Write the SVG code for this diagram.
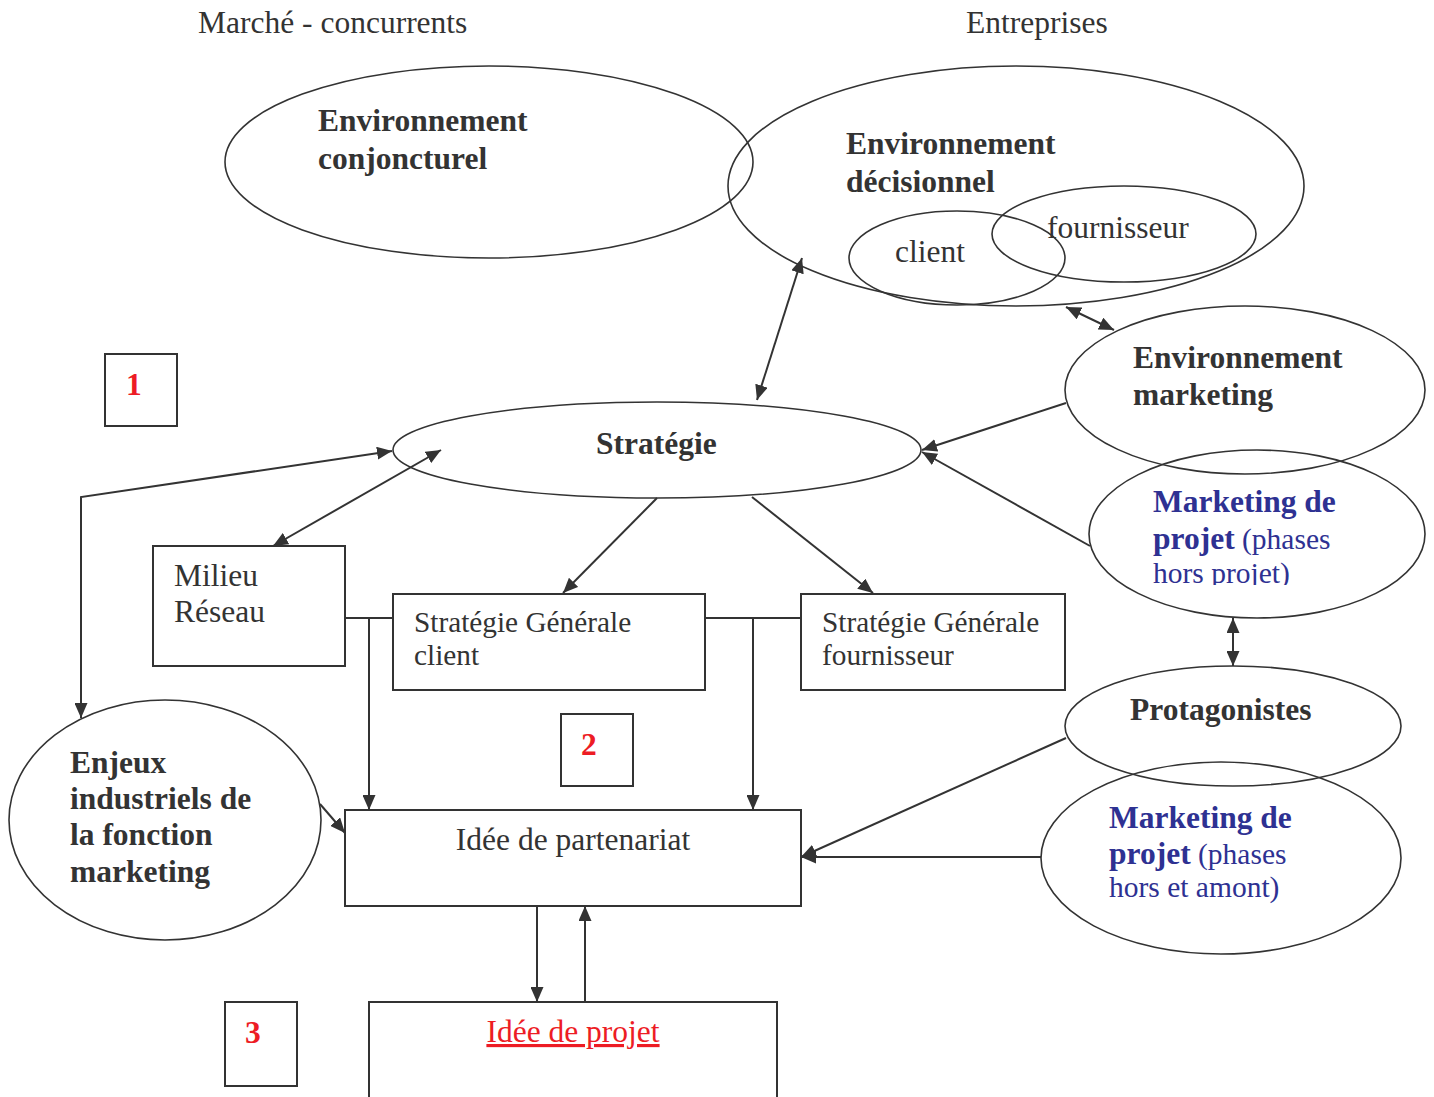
<svg xmlns="http://www.w3.org/2000/svg" width="1434" height="1097" viewBox="0 0 1434 1097">
<defs>
<style>
text{font-family:"Liberation Serif","Times New Roman",serif;font-size:31.5px;fill:#333}
.b{font-weight:bold}
.s{font-size:29.3px}
.blue{fill:#2e3192}
.bs{font-size:29.5px}
.red{fill:#ed1c24}
.ell{fill:none;stroke:#333;stroke-width:1.6}
.box{fill:none;stroke:#333;stroke-width:2}
.c{fill:none;stroke:#333;stroke-width:2}
</style>
<marker id="ar" markerUnits="userSpaceOnUse" markerWidth="15" markerHeight="13" refX="15" refY="6.5" orient="auto-start-reverse" viewBox="0 0 15 13">
<path d="M0,0 L15,6.5 L0,13 z" fill="#333"/>
</marker>
<clipPath id="clip1"><rect x="1100" y="480" width="300" height="105"/></clipPath>
</defs>
<rect width="1434" height="1097" fill="#fff"/>

<text x="198" y="33">Marché - concurrents</text>
<text x="966" y="33">Entreprises</text>

<g id="env-conjoncturel">
<ellipse class="ell" cx="489" cy="162" rx="264" ry="96"/>
<text class="b" x="318" y="131">Environnement</text>
<text class="b" x="318" y="169">conjoncturel</text>
</g>

<g id="env-decisionnel">
<ellipse class="ell" cx="1016" cy="186" rx="288" ry="120"/>
<text class="b" x="846" y="154">Environnement</text>
<text class="b" x="846" y="192">décisionnel</text>
</g>

<g id="client">
<ellipse class="ell" cx="957" cy="258" rx="108" ry="47"/>
<text x="895" y="262">client</text>
</g>

<g id="fournisseur">
<ellipse class="ell" cx="1124" cy="234" rx="132" ry="48"/>
<text x="1047" y="238">fournisseur</text>
</g>

<g id="env-marketing">
<ellipse class="ell" cx="1245" cy="390" rx="180" ry="84"/>
<text class="b" x="1133" y="368">Environnement</text>
<text class="b" x="1133" y="405">marketing</text>
</g>

<g id="mkt-projet-hors">
<ellipse class="ell" cx="1257" cy="534" rx="168" ry="84"/>
<g clip-path="url(#clip1)">
<text class="b blue" x="1153" y="512">Marketing de</text>
<text class="blue bs" x="1153" y="549"><tspan class="b" style="font-size:31.5px">projet</tspan> (phases</text>
<text class="blue bs" x="1153" y="583">hors projet)</text>
</g>
</g>

<g id="protagonistes">
<ellipse class="ell" cx="1233" cy="726" rx="168" ry="60"/>
<text class="b" x="1130" y="720">Protagonistes</text>
</g>

<g id="mkt-projet-amont">
<ellipse class="ell" cx="1221" cy="858" rx="180" ry="96"/>
<text class="b blue" x="1109" y="828">Marketing de</text>
<text class="blue bs" x="1109" y="864"><tspan class="b" style="font-size:31.5px">projet</tspan> (phases</text>
<text class="blue bs" x="1109" y="897">hors et amont)</text>
</g>

<g id="strategie">
<ellipse class="ell" cx="657" cy="450" rx="264" ry="48"/>
<text class="b" x="596" y="454">Stratégie</text>
</g>

<g id="enjeux">
<ellipse class="ell" cx="165" cy="820" rx="156" ry="120"/>
<text class="b" x="70" y="773">Enjeux</text>
<text class="b" x="70" y="809">industriels de</text>
<text class="b" x="70" y="845">la fonction</text>
<text class="b" x="70" y="882">marketing</text>
</g>

<g id="milieu">
<rect class="box" x="153" y="546" width="192" height="120"/>
<text x="174" y="586">Milieu</text>
<text x="174" y="622">Réseau</text>
</g>

<g id="sg-client">
<rect class="box" x="393" y="594" width="312" height="96"/>
<text class="s" x="414" y="632">Stratégie Générale</text>
<text class="s" x="414" y="665">client</text>
</g>

<g id="sg-fournisseur">
<rect class="box" x="801" y="594" width="264" height="96"/>
<text class="s" x="822" y="632">Stratégie Générale</text>
<text class="s" x="822" y="665">fournisseur</text>
</g>

<g id="idee-partenariat">
<rect class="box" x="345" y="810" width="456" height="96"/>
<text x="573" y="850" text-anchor="middle">Idée de partenariat</text>
</g>

<g id="idee-projet">
<rect class="box" x="369" y="1002" width="408" height="110"/>
<text class="red" x="573" y="1042" text-anchor="middle" text-decoration="underline">Idée de projet</text>
</g>

<g id="label-1">
<rect class="box" x="105" y="354" width="72" height="72"/>
<text class="b red" x="126" y="395">1</text>
</g>
<g id="label-2">
<rect class="box" x="561" y="714" width="72" height="72"/>
<text class="b red" x="581" y="755">2</text>
</g>
<g id="label-3">
<rect class="box" x="225" y="1002" width="72" height="84"/>
<text class="b red" x="245" y="1043">3</text>
</g>

<g id="connectors">
<line class="c" x1="757" y1="400" x2="802" y2="258" marker-start="url(#ar)" marker-end="url(#ar)"/>
<line class="c" x1="1066" y1="307" x2="1114" y2="330" marker-start="url(#ar)" marker-end="url(#ar)"/>
<line class="c" x1="1066" y1="403" x2="922" y2="450" marker-end="url(#ar)"/>
<line class="c" x1="1090" y1="546" x2="922" y2="452" marker-end="url(#ar)"/>
<line class="c" x1="1233" y1="618" x2="1233" y2="666" marker-start="url(#ar)" marker-end="url(#ar)"/>
<line class="c" x1="441" y1="450" x2="273" y2="546" marker-start="url(#ar)" marker-end="url(#ar)"/>
<polyline class="c" points="392,451 81,497 81,718" marker-start="url(#ar)" marker-end="url(#ar)"/>
<line class="c" x1="657" y1="498" x2="563" y2="593" marker-end="url(#ar)"/>
<line class="c" x1="752" y1="497" x2="873" y2="593" marker-end="url(#ar)"/>
<line class="c" x1="345" y1="618" x2="393" y2="618"/>
<line class="c" x1="369" y1="618" x2="369" y2="810" marker-end="url(#ar)"/>
<line class="c" x1="705" y1="618" x2="801" y2="618"/>
<line class="c" x1="753" y1="618" x2="753" y2="810" marker-end="url(#ar)"/>
<line class="c" x1="320" y1="804" x2="345" y2="833" marker-end="url(#ar)"/>
<line class="c" x1="1066" y1="738" x2="801" y2="857" marker-end="url(#ar)"/>
<line class="c" x1="1041" y1="857" x2="801" y2="857" marker-end="url(#ar)"/>
<line class="c" x1="537" y1="906" x2="537" y2="1002" marker-end="url(#ar)"/>
<line class="c" x1="585" y1="1002" x2="585" y2="906" marker-end="url(#ar)"/>
</g>
</svg>
